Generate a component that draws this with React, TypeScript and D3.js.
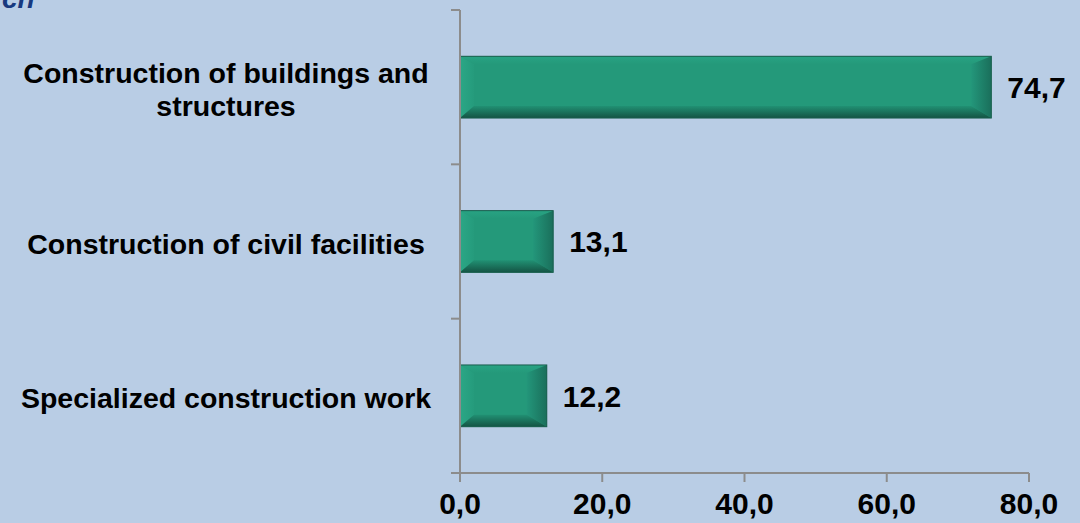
import React from "react";
import * as d3 from "d3";

const categories: string[][] = [
  ["Construction of buildings and", "structures"],
  ["Construction of civil facilities"],
  ["Specialized construction work"],
];
const values: number[] = [74.7, 13.1, 12.2];
const xTicks: number[] = [0, 20, 40, 60, 80];
const titleFragment = "ch";

const W = 1080;
const H = 523;

export default function App() {
  const x = d3.scaleLinear().domain([0, 80]).range([460, 1029]);
  const y = d3
    .scaleBand<number>()
    .domain(d3.range(categories.length))
    .range([10, 473])
    .paddingInner(0.6)
    .paddingOuter(0.3);
  const bounds = d3.range(categories.length + 1).map((i) => 10 + (i * (473 - 10)) / categories.length);
  const fmt = (v: number) => v.toFixed(1).replace(".", ",");
  const font = "'Liberation Sans', Arial, sans-serif";

  return (
    <svg width={W} height={H} style={{ position: "absolute", left: 0, top: 0, display: "block" }}>
      <defs>
        <linearGradient id="gLeft" x1="0" x2="1" y1="0" y2="0">
          <stop offset="0" stopColor="#2ba786" />
          <stop offset="1" stopColor="#259b7c" />
        </linearGradient>
        <linearGradient id="gRight" x1="0" x2="1" y1="0" y2="0">
          <stop offset="0" stopColor="#23967a" />
          <stop offset="1" stopColor="#1a6f5b" />
        </linearGradient>
        <linearGradient id="gBottom" x1="0" x2="0" y1="0" y2="1">
          <stop offset="0" stopColor="#219073" />
          <stop offset="1" stopColor="#145444" />
        </linearGradient>
        <linearGradient id="gTop" x1="0" x2="0" y1="0" y2="1">
          <stop offset="0" stopColor="#28a383" />
          <stop offset="1" stopColor="#24997a" />
        </linearGradient>
      </defs>
      <rect x={0} y={0} width={W} height={H} fill="#b9cde5" />
      <text x={2} y={8} fontFamily={font} fontWeight="bold" fontStyle="italic" fontSize={28} fill="#17397f">
        {titleFragment}
      </text>

      {/* bars */}
      {values.map((v, i) => {
        const x0 = x(0);
        const x1 = x(v);
        const y0 = y(i)!;
        const h = y.bandwidth();
        const y1 = y0 + h;
        const bl = 14;
        const br = 20;
        const bt = 8;
        const bb = 12;
        return (
          <g key={i}>
            <rect x={x0} y={y0} width={x1 - x0} height={h} fill="#24997a" />
            <polygon points={`${x0},${y0} ${x1},${y0} ${x1 - br},${y0 + bt} ${x0 + bl},${y0 + bt}`} fill="url(#gTop)" />
            <polygon points={`${x0},${y0} ${x0 + bl},${y0 + bt} ${x0 + bl},${y1 - bb} ${x0},${y1}`} fill="url(#gLeft)" />
            <polygon points={`${x1},${y0} ${x1},${y1} ${x1 - br},${y1 - bb} ${x1 - br},${y0 + bt}`} fill="url(#gRight)" />
            <polygon points={`${x0},${y1} ${x0 + bl},${y1 - bb} ${x1 - br},${y1 - bb} ${x1},${y1}`} fill="url(#gBottom)" />
            <rect x={x0} y={y0} width={x1 - x0} height={h} fill="none" stroke="#1a5e4d" strokeWidth={1} />
            <text
              x={x1 + 16}
              y={y0 + h / 2}
              dy="0.36em"
              fontFamily={font}
              fontWeight="bold"
              fontSize={30}
              fill="#000"
            >
              {fmt(v)}
            </text>
          </g>
        );
      })}

      {/* y axis */}
      <line x1={460} x2={460} y1={10} y2={476} stroke="#8c8c8c" strokeWidth={2} />
      {bounds.map((b, i) => (
        <line key={i} x1={451} x2={460} y1={b} y2={b} stroke="#8c8c8c" strokeWidth={2} />
      ))}
      {/* x axis */}
      <line x1={451} x2={x(80)} y1={473} y2={473} stroke="#8c8c8c" strokeWidth={2} />
      {xTicks.map((t) => (
        <g key={t}>
          <line x1={x(t)} x2={x(t)} y1={473} y2={482} stroke="#8c8c8c" strokeWidth={2} />
          <text
            x={x(t)}
            y={503}
            dy="0.36em"
            textAnchor="middle"
            fontFamily={font}
            fontWeight="bold"
            fontSize={30}
            fill="#000"
          >
            {fmt(t)}
          </text>
        </g>
      ))}

      {/* category labels */}
      {categories.map((lines, i) => {
        const cy = y(i)! + y.bandwidth() / 2 + 2;
        const lh = 33;
        return (
          <text key={i} textAnchor="middle" fontFamily={font} fontWeight="bold" fontSize={28.5} fill="#000">
            {lines.map((ln, j) => (
              <tspan key={j} x={226} y={cy + (j - (lines.length - 1) / 2) * lh} dy="0.36em">
                {ln}
              </tspan>
            ))}
          </text>
        );
      })}
    </svg>
  );
}
